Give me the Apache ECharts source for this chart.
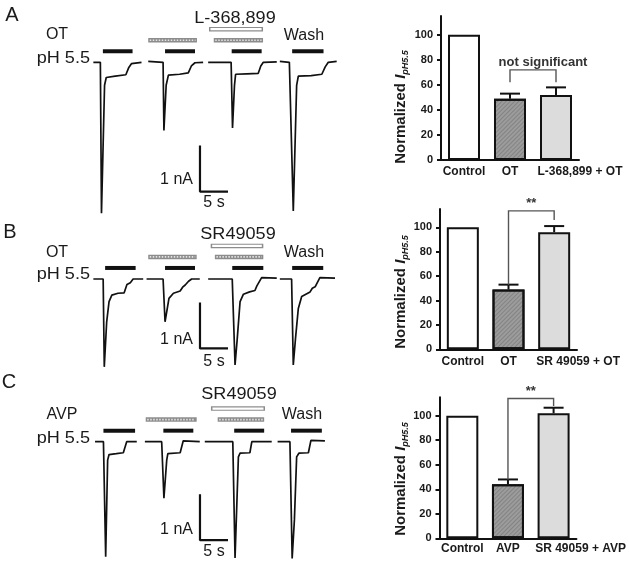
<!DOCTYPE html>
<html><head><meta charset="utf-8">
<script src="https://cdn.jsdelivr.net/npm/echarts@6/dist/echarts.min.js"></script>
<style>html,body{margin:0;padding:0;background:#fff}#c{width:629px;height:564px}</style>
</head><body><div id="c"></div>
<script>
// ================= DATA =================
// Bar charts (normalized I pH5.5, %)
const barCategoriesA = ['Control', 'OT', 'L-368,899 + OT'];
const barCategoriesB = ['Control', 'OT', 'SR 49059 + OT'];
const barCategoriesC = ['Control', 'AVP', 'SR 49059 + AVP'];
const barMeansA = [100, 49, 52];
const barErrorsA = [0, 4, 6];
const barMeansB = [100, 49, 96];
const barErrorsB = [0, 4, 5];
const barMeansC = [100, 44, 102];
const barErrorsC = [0, 4, 4.5];
const barTicks = [0, 20, 40, 60, 80, 100];
// significance brackets: [fromIndex, toIndex, topValue, leftEndValue, rightEndValue]
const bracketA = [1, 2, 72, 62, 62];
const bracketB = [1, 2, 113.5, 53, 106];
const bracketC = [1, 2, 114, 48, 108];
const bracketTextA = 'not significant';
const bracketTextB = '**';
const bracketTextC = '**';

// Current traces: [time (s), current (nA)], one array per sweep
const tracesA = [
  [[0.6,0],[1.85,0],[2.05,-3.28],[2.6,-0.5],[2.9,-0.33],[4.5,-0.3],[6.4,-0.27],[6.9,-0.12],[7.4,-0.03],[9.2,0]],
  [[10.4,0.02],[13.05,0],[13.2,-1.48],[13.6,-0.5],[14.0,-0.28],[16,-0.26],[17.55,-0.23],[18.1,-0.08],[18.75,-0.01],[20.2,0]],
  [[21.1,0],[25.2,0],[25.45,-1.43],[25.8,-0.5],[26.0,-0.26],[28,-0.25],[30.05,-0.24],[30.5,-0.08],[30.95,0],[33.35,0.01]],
  [[33.9,0.02],[35.6,0],[36.3,-3.23],[36.9,-0.5],[37.2,-0.3],[39.5,-0.29],[41.4,-0.26],[42,-0.1],[42.55,0],[44.05,0.02]]
];
const tracesB = [
  [[0.6,0],[2.35,0],[2.55,-1.91],[2.98,-0.93],[3.4,-0.49],[3.9,-0.35],[5,-0.31],[6.1,-0.3],[6.6,-0.12],[7.2,-0.08],[7.7,0],[9.5,0]],
  [[10.1,0],[13.05,0],[13.4,-0.93],[14.1,-0.42],[14.9,-0.31],[16.1,-0.26],[16.6,-0.17],[17.0,-0.13],[17.6,-0.05],[18.15,0],[19.6,0]],
  [[21.1,0],[25.4,0],[25.9,-1.87],[26.3,-1.29],[26.8,-0.49],[27.4,-0.33],[28.5,-0.28],[29.45,-0.25],[29.8,-0.15],[30.05,-0.13],[30.65,0.03],[33.35,0.02]],
  [[33.9,0],[36.0,0],[36.3,-1.87],[36.7,-1.29],[37.2,-0.64],[37.8,-0.38],[39.3,-0.28],[39.7,-0.2],[40.2,-0.17],[41.05,0.03],[43.75,0.02]]
];
const tracesC = [
  [[0.9,0],[2.4,0],[2.8,-2.5],[3.15,-0.4],[3.4,-0.28],[4.7,-0.26],[5.95,-0.24],[6.55,0],[8.35,0]],
  [[9.8,0],[12.8,0],[13.2,-1.23],[13.7,-0.4],[13.9,-0.26],[16.1,-0.24],[16.65,0.02],[19.6,0]],
  [[20.5,0],[25.5,0],[25.9,-2.53],[26.5,-0.33],[26.8,-0.25],[28.55,-0.24],[28.9,0],[32.45,0]],
  [[33.5,0],[35.7,0],[36.1,-2.54],[36.5,-1.7],[36.9,-0.33],[37.3,-0.25],[39.0,-0.24],[39.45,0.03],[41.95,0.02]]
];
// Application periods [start s, end s]
const phPeriodsA = [[2.3,7.6],[13.4,18.75],[25.3,30.65],[36.1,41.7]];
const agonistPeriodsA = [[10.4,19.1],[22.1,30.9]];
const antagonistPeriodsA = [[21.25,30.9]];
const phPeriodsB = [[2.7,8.15],[13.4,18.75],[25.4,30.95],[36.1,41.65]];
const agonistPeriodsB = [[10.4,19.05],[22.3,30.95]];
const antagonistPeriodsB = [[21.55,30.95]];
const phPeriodsC = [[2.4,8.05],[13.1,18.45],[25.75,31.1],[35.9,41.4]];
const agonistPeriodsC = [[9.95,19.05],[22.8,31.1]];
const antagonistPeriodsC = [[21.6,31.25]];

// ================= LAYOUT / STYLE =================
const FONT = '"Liberation Sans", Arial, Helvetica, sans-serif';
const INK = '#1a1a1a';
const PX_PER_S = 5.6, PX_PER_NA = 46, T_MAX = 44.5;
const traceGrids = [
  {top: 62.3 - PX_PER_NA, min: -3.5, max: 1},
  {top: 279 - PX_PER_NA, min: -3.5, max: 1},
  {top: 441.7 - PX_PER_NA, min: -2.6, max: 1}
];
const barGrids = [
  {left: 441, top: 16, width: 138, height: 144, labelMargin: 6, shift: 48},
  {left: 440, top: 209, width: 137, height: 140.3, labelMargin: 6, shift: 48},
  {left: 439.5, top: 397.3, width: 137, height: 141, labelMargin: 4, shift: 54}
];
const scaleBars = [{t: 19.64, bottom: -2.81}, {t: 19.64, bottom: -1.51}, {t: 19.64, bottom: -2.14}];
const LEVEL_PH = 0.24, LEVEL_AG = 0.48, LEVEL_ANT = 0.72;

const grid = [], xAxis = [], yAxis = [], series = [];
traceGrids.forEach((g, i) => {
  grid.push({left: 90, top: g.top, width: T_MAX * PX_PER_S, height: (g.max - g.min) * PX_PER_NA});
  xAxis.push({type: 'value', gridIndex: i, min: 0, max: T_MAX, show: false});
  yAxis.push({type: 'value', gridIndex: i, min: g.min, max: g.max, show: false});
});
const cats = [barCategoriesA, barCategoriesB, barCategoriesC];
const labelFont = {fontWeight: 'bold', fontSize: 12, fontFamily: FONT, color: INK};
barGrids.forEach((g, i) => {
  grid.push({left: g.left, top: g.top, width: g.width, height: g.height});
  xAxis.push({
    type: 'category', gridIndex: 3 + i, data: cats[i],
    axisLine: {lineStyle: {color: '#111', width: 2}}, axisTick: {show: false},
    axisLabel: Object.assign({}, labelFont, {
      margin: g.labelMargin, interval: 0,
      formatter: (v, idx) => idx === 2 ? '{s|' + v + '}' : '{n|' + v + '}',
      rich: {
        n: Object.assign({}, labelFont),
        s: Object.assign({}, labelFont, {padding: [0, 0, 0, g.shift]})
      }
    })
  });
  yAxis.push({
    type: 'value', gridIndex: 3 + i, min: 0, max: 115,
    axisLine: {show: true, lineStyle: {color: '#111', width: 2}},
    axisTick: {show: true, length: 4, lineStyle: {color: '#111', width: 2}, customValues: barTicks},
    axisLabel: {color: INK, fontWeight: 'bold', fontSize: 11, fontFamily: FONT, margin: 8, customValues: barTicks},
    splitLine: {show: false}
  });
});

// traces
[tracesA, tracesB, tracesC].forEach((tr, i) => {
  tr.forEach(sw => series.push({
    type: 'line', xAxisIndex: i, yAxisIndex: i, data: sw, symbol: 'none', silent: true,
    lineStyle: {color: '#111', width: 1.7}, z: 3
  }));
});

// application bars
function periodSeries(i, data, level, kind) {
  return {
    type: 'custom', xAxisIndex: i, yAxisIndex: i, data: data, silent: true, z: 4,
    encode: {x: [0, 1]},
    renderItem: (params, api) => {
      const a = api.coord([api.value(0), level]);
      const b = api.coord([api.value(1), level]);
      const shape = {x1: a[0], y1: a[1], x2: b[0], y2: b[1]};
      if (kind === 'ph') return {type: 'line', shape, style: {stroke: '#111', lineWidth: 4}};
      if (kind === 'ag') return {type: 'group', children: [
        {type: 'line', shape, style: {stroke: '#8c8c8c', lineWidth: 4.5}},
        {type: 'line', shape: {x1: a[0] + 1.5, y1: a[1], x2: b[0] - 1.5, y2: b[1]}, style: {stroke: '#e4e4e4', lineWidth: 1.6, lineDash: [1.5, 1.5]}}
      ]};
      return {type: 'group', children: [
        {type: 'line', shape, style: {stroke: '#8c8c8c', lineWidth: 4.5}},
        {type: 'line', shape: {x1: a[0] + 1.5, y1: a[1], x2: b[0] - 1.5, y2: b[1]}, style: {stroke: '#fff', lineWidth: 2.2}}
      ]};
    }
  };
}
[[phPeriodsA, agonistPeriodsA, antagonistPeriodsA],
 [phPeriodsB, agonistPeriodsB, antagonistPeriodsB],
 [phPeriodsC, agonistPeriodsC, antagonistPeriodsC]].forEach((p, i) => {
  series.push(periodSeries(i, p[0], LEVEL_PH, 'ph'));
  series.push(periodSeries(i, p[1], LEVEL_AG, 'ag'));
  series.push(periodSeries(i, p[2], LEVEL_ANT, 'ant'));
});

// scale bars: 1 nA vertical, 5 s horizontal
scaleBars.forEach((s, i) => series.push({
  type: 'line', xAxisIndex: i, yAxisIndex: i, symbol: 'none', silent: true,
  data: [[s.t, s.bottom + 1], [s.t, s.bottom], [s.t + 5, s.bottom]],
  lineStyle: {color: '#111', width: 2.2}
}));

// bar charts
const means = [barMeansA, barMeansB, barMeansC];
const errs = [barErrorsA, barErrorsB, barErrorsC];
const fills = ['#ffffff', '#9c9c9c', '#dcdcdc'];
means.forEach((m, i) => {
  series.push({
    type: 'bar', xAxisIndex: 3 + i, yAxisIndex: 3 + i, barWidth: 32, silent: true,
    data: m.map((v, k) => ({value: v, itemStyle: {
      color: fills[k], borderColor: '#111', borderWidth: 2,
      decal: k === 1 ? {symbol: 'rect', symbolSize: 1, color: 'rgba(40,40,40,0.22)', dashArrayX: [1, 0], dashArrayY: [1, 2], rotation: -Math.PI / 4} : null
    }}))
  });
  series.push({
    type: 'custom', xAxisIndex: 3 + i, yAxisIndex: 3 + i, silent: true, z: 5,
    data: m.map((v, k) => [k, v, errs[i][k]]), encode: {x: 0, y: 1},
    renderItem: (params, api) => {
      const e = api.value(2);
      if (!e) return null;
      const a = api.coord([api.value(0), api.value(1)]);
      const b = api.coord([api.value(0), api.value(1) + e]);
      return {type: 'group', children: [
        {type: 'line', shape: {x1: a[0], y1: a[1], x2: b[0], y2: b[1]}, style: {stroke: '#111', lineWidth: 2}},
        {type: 'line', shape: {x1: b[0] - 10, y1: b[1], x2: b[0] + 10, y2: b[1]}, style: {stroke: '#111', lineWidth: 2}}
      ]};
    }
  });
});

// brackets
const brackets = [bracketA, bracketB, bracketC];
const bracketTexts = [bracketTextA, bracketTextB, bracketTextC];
const bracketTextStyle = [
  {dx: 10, dy: -7, size: 13},
  {dx: 0, dy: -7, size: 13},
  {dx: 0, dy: -7, size: 13}
];
brackets.forEach((br, i) => series.push({
  type: 'custom', xAxisIndex: 3 + i, yAxisIndex: 3 + i, silent: true, z: 6,
  data: [br], encode: {x: 0, y: 2},
  renderItem: (params, api) => {
    const i0 = api.value(0), i1 = api.value(1), top = api.value(2);
    const p1 = api.coord([i0, api.value(3)]), p2 = api.coord([i0, top]);
    const p3 = api.coord([i1, top]), p4 = api.coord([i1, api.value(4)]);
    const st = bracketTextStyle[i];
    return {type: 'group', children: [
      {type: 'polyline', shape: {points: [p1, p2, p3, p4]}, style: {stroke: '#555', lineWidth: 1.4, fill: null}},
      {type: 'text', x: (p2[0] + p3[0]) / 2 + st.dx, y: p2[1] + st.dy,
       style: {text: bracketTexts[i], fill: '#333', font: 'bold ' + st.size + 'px ' + FONT,
               align: 'center', verticalAlign: 'middle', textAlign: 'center', textVerticalAlign: 'middle'}}
    ]};
  }
}));

// ================= TEXT =================
function txt(x, y, text, size, align, sx) {
  return {type: 'text', x, y, scaleX: sx || 1, silent: true, style: {
    text, fill: INK, font: 'normal ' + size + 'px ' + FONT,
    align: align || 'center', verticalAlign: 'middle',
    textAlign: align || 'center', textVerticalAlign: 'middle'
  }};
}
function yTitle(x, y) {
  return {type: 'text', x, y, rotation: Math.PI / 2, silent: true, style: {
    text: '{n|Normalized }{i|I}{s|pH5.5}', fill: INK,
    align: 'center', verticalAlign: 'middle', textAlign: 'center', textVerticalAlign: 'middle',
    rich: {
      n: {fontSize: 15, fontWeight: 'bold', fontFamily: FONT, fill: INK, lineHeight: 18},
      i: {fontSize: 15, fontWeight: 'bold', fontStyle: 'italic', fontFamily: FONT, fill: INK, lineHeight: 18},
      s: {fontSize: 9, fontWeight: 'bold', fontStyle: 'italic', fontFamily: FONT, fill: INK, lineHeight: 10, verticalAlign: 'bottom'}
    }
  }};
}
const W = 1.13;
const graphic = [
  txt(12, 15, 'A', 20), txt(10, 232, 'B', 20), txt(9, 382, 'C', 20),
  txt(235, 18.5, 'L-368,899', 16, 'center', W), txt(57, 35, 'OT', 16), txt(90, 58.5, 'pH 5.5', 16, 'right', W), txt(304, 36, 'Wash', 16),
  txt(238, 235, 'SR49059', 16, 'center', W), txt(57, 253, 'OT', 16), txt(90, 275, 'pH 5.5', 16, 'right', W), txt(304, 253, 'Wash', 16),
  txt(239, 395, 'SR49059', 16, 'center', W), txt(62, 415, 'AVP', 16), txt(90, 438.5, 'pH 5.5', 16, 'right', W), txt(302, 415, 'Wash', 16),
  txt(193, 180, '1 nA', 16, 'right'), txt(214, 203, '5 s', 16),
  txt(193, 340, '1 nA', 16, 'right'), txt(214, 361.5, '5 s', 16),
  txt(193, 530, '1 nA', 16, 'right'), txt(214, 551.5, '5 s', 16),
  yTitle(401, 107), yTitle(401, 292), yTitle(401, 479)
];

const chart = echarts.init(document.getElementById('c'), null, {renderer: 'canvas'});
chart.setOption({
  animation: false,
  backgroundColor: '#fff',
  textStyle: {fontFamily: FONT},
  grid, xAxis, yAxis, series, graphic
});
</script></body></html>
